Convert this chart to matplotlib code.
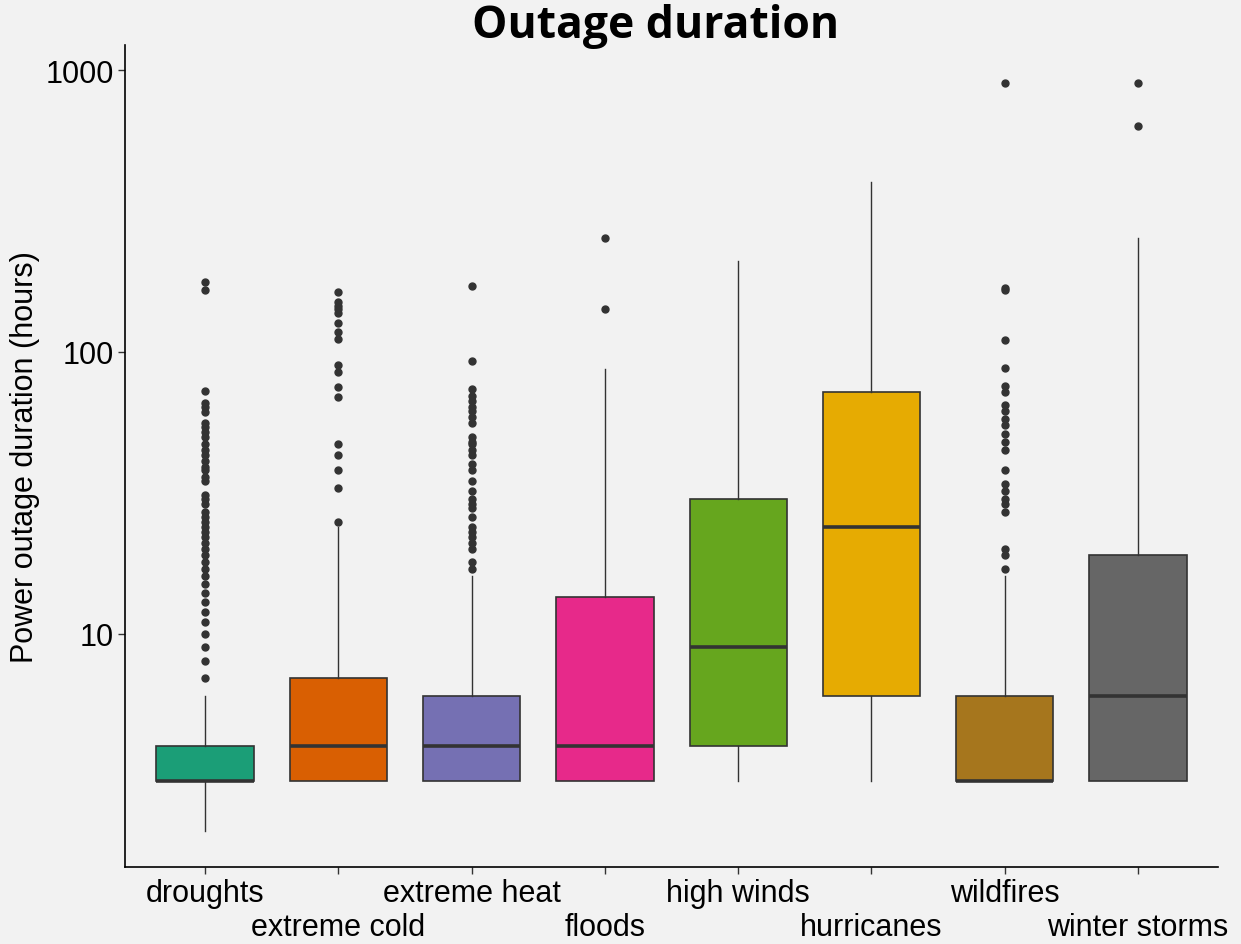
import numpy as np
import matplotlib
matplotlib.use("Agg")
import matplotlib.pyplot as plt
import matplotlib.transforms as mtransforms

# ============================================================
# DATA
# ============================================================

categories = ["droughts", "extreme cold", "extreme heat", "floods",
              "high winds", "hurricanes", "wildfires", "winter storms"]

q1 = [3, 3, 3, 3, 4, 6, 3, 3]
med = [3, 4, 4, 4, 9, 24, 3, 6]
q3 = [4, 7, 6, 13.5, 30, 72, 6, 19]
whislo = [2, 3, 3, 3, 3, 3, 3, 3]
whishi = [6, 24, 16, 87, 210, 401, 16, 254]

fliers_droughts = [7, 8, 9, 10, 11, 12, 13, 14, 15, 16, 17, 18, 19, 20, 21, 22,
                   23, 24, 25, 26, 27, 29, 30, 31, 35, 36, 38, 39, 41, 43, 45,
                   47, 50, 52, 54, 56, 61, 64, 66, 73, 166, 177]
fliers_cold = [25, 33, 38, 43, 47, 69, 75, 85, 90, 111, 118, 127, 138, 142,
               146, 150, 163]
fliers_heat = [17, 18, 20, 21, 22, 23, 24, 26, 28, 29, 30, 32, 35, 38, 40, 43,
               45, 47, 48, 50, 56, 59, 62, 64, 67, 70, 74, 93, 172]
fliers_floods = [142, 254]
fliers_winds = []
fliers_hurricanes = []
fliers_wildfires = [17, 19, 20, 27, 29, 30, 32, 34, 38, 45, 48, 51, 55, 58, 62,
                    65, 72, 76, 88, 110, 166, 169, 900]
fliers_winter = [631, 900]

fliers = [fliers_droughts, fliers_cold, fliers_heat, fliers_floods,
          fliers_winds, fliers_hurricanes, fliers_wildfires, fliers_winter]

colors = ["#1B9E77", "#D95F02", "#7570B3", "#E7298A",
          "#66A61E", "#E6AB02", "#A6761D", "#666666"]

# ============================================================
# PLOT
# ============================================================

BG = "#F2F2F2"
plt.rcParams["font.family"] = ["Liberation Sans", "DejaVu Sans"]

fig = plt.figure(figsize=(12.41, 9.45), dpi=100, facecolor=BG)
ax = fig.add_axes([0.1007, 0.0815, 0.8808, 0.8698])
ax.set_facecolor(BG)

stats = []
for i, name in enumerate(categories):
    stats.append({
        "label": name,
        "q1": q1[i], "med": med[i], "q3": q3[i],
        "whislo": whislo[i], "whishi": whishi[i],
        "fliers": fliers[i],
    })

pos = np.arange(len(categories))
bp = ax.bxp(
    stats, positions=pos, widths=0.73, patch_artist=True, showcaps=False,
    boxprops=dict(edgecolor="#333333", linewidth=1.2),
    medianprops=dict(color="#333333", linewidth=2.6),
    whiskerprops=dict(color="#333333", linewidth=1.0),
    flierprops=dict(marker="o", markersize=5, markerfacecolor="#333333",
                    markeredgecolor="#333333", linestyle="none"),
)
for patch, c in zip(bp["boxes"], colors):
    patch.set_facecolor(c)

ax.set_yscale("log")
ax.set_ylim(1.49, 1227)
ax.set_xlim(-0.6, len(categories) - 0.4)
ax.set_yticks([10, 100, 1000])
ax.set_yticklabels(["10", "100", "1000"])
ax.yaxis.set_minor_locator(matplotlib.ticker.NullLocator())

# x labels dodged on two rows (like ggplot n.dodge = 2)
ax.set_xticks(pos)
ax.set_xticklabels([""] * len(categories))
for i, name in enumerate(categories):
    dy = -0.26 if i % 2 == 0 else -0.60   # inches below the axis line
    tr = ax.get_xaxis_transform() + mtransforms.ScaledTranslation(
        0, dy, fig.dpi_scale_trans)
    ax.text(pos[i], 0, name, transform=tr, ha="center", va="center",
            fontsize=22, color="black")

ax.tick_params(axis="both", labelsize=22, length=5, width=1, color="#333333",
               labelcolor="black")
ax.tick_params(axis="y", pad=3)
ax.set_ylabel("Power outage duration (hours)", fontsize=22, labelpad=4)

for s in ["top", "right"]:
    ax.spines[s].set_visible(False)
for s in ["left", "bottom"]:
    ax.spines[s].set_linewidth(1.2)
    ax.spines[s].set_color("black")

fig.text(0.528, 0.972, "Outage duration", ha="center", va="center",
         fontsize=32, fontweight="bold", family=["Open Sans", "DejaVu Sans"])

fig.savefig("out.png", dpi=100, facecolor=BG)
